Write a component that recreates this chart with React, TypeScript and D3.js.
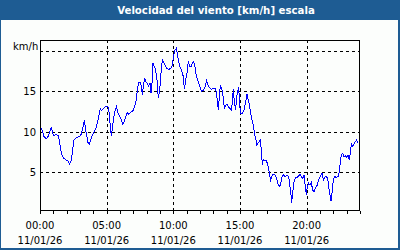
import React from "react";
import * as d3 from "d3";

const hours: number[] = [
  0.05, 0.15, 0.3, 0.475, 0.6, 0.725, 0.85, 0.95, 1.05, 1.15, 1.35, 1.45, 1.55, 1.65, 1.8, 1.95, 2.1, 2.225, 2.35, 2.45, 2.55, 2.725, 2.975, 3.1, 3.225, 3.325, 3.425, 3.525, 3.6, 3.7, 3.8, 3.925, 4.05, 4.225, 4.35, 4.425, 4.525, 4.6, 4.725, 4.85, 4.975, 5.075, 5.15, 5.225, 5.3, 5.35, 5.425, 5.5, 5.6, 5.725, 5.85, 5.975, 6.1, 6.2, 6.3, 6.425, 6.55, 6.65, 6.75, 6.85, 6.975, 7.1, 7.225, 7.3, 7.4, 7.525, 7.6, 7.675, 7.75, 7.85, 7.925,
  8.0, 8.125, 8.25, 8.325, 8.4, 8.475, 8.575, 8.675, 8.775, 8.875, 8.975, 9.075, 9.175, 9.325, 9.5, 9.675, 9.825, 9.925, 10.025, 10.125, 10.225, 10.3, 10.375, 10.5, 10.625, 10.75, 10.825, 10.925, 11.025, 11.125, 11.225, 11.325, 11.425, 11.525, 11.625, 11.725, 11.875, 12.0, 12.125, 12.25, 12.375, 12.5, 12.625, 12.75, 12.875, 13.0, 13.175, 13.25, 13.325, 13.375, 13.45, 13.525, 13.625, 13.7, 13.775, 13.825, 13.925, 14.025, 14.125, 14.25, 14.375, 14.45, 14.5, 14.575, 14.675, 14.75, 14.825, 14.9, 14.975, 15.05, 15.175, 15.3, 15.4, 15.525, 15.625, 15.725, 15.825,
  15.9, 16.025, 16.1, 16.2, 16.25, 16.35, 16.45, 16.525, 16.6, 16.675, 16.75, 16.825, 16.95, 17.05, 17.15, 17.225, 17.3, 17.4, 17.5, 17.65, 17.775, 17.875, 17.975, 18.05, 18.15, 18.275, 18.4, 18.525, 18.65, 18.75, 18.825, 18.875, 18.95, 19.025, 19.1, 19.2, 19.3, 19.4, 19.5, 19.6, 19.7, 19.8, 19.9, 19.975, 20.05, 20.15, 20.25, 20.35, 20.45, 20.55, 20.65, 20.8, 20.9, 21.025, 21.15, 21.25, 21.35, 21.45, 21.575, 21.65, 21.75, 21.825, 21.9, 22.0, 22.1, 22.225, 22.35, 22.45, 22.525, 22.6, 22.7, 22.8, 22.9, 23.0, 23.1, 23.2, 23.275, 23.35, 23.45, 23.55, 23.65, 23.75, 23.825,
];

const windSpeed: number[] = [
  10.54, 10.21, 9.39, 9.15, 9.39, 9.89, 10.62, 9.8, 9.48, 9.64, 9.56, 8.98, 7.75, 7.13, 6.72, 6.52, 6.44, 6.03, 6.52, 7.75, 8.98, 9.31, 9.39, 9.72, 10.62, 11.45, 10.21, 9.39, 8.65, 8.49, 8.98, 9.6, 10.01, 10.54, 11.45, 12.06, 12.8, 12.6, 12.76, 13.01, 13.17, 13.09, 12.88, 11.45, 10.21, 9.48, 10.3, 11.45, 12.47, 13.09, 12.27, 11.86, 11.45, 10.95, 11.24, 11.77, 12.35, 12.18, 12.27, 12.47, 12.6, 13.09, 13.91, 15.14, 16.04, 16.04, 15.55, 14.53, 15.63, 16.58, 16.17,
  16.04, 15.63, 15.96, 14.73, 15.96, 18.43, 18.02, 17.6, 16.37, 14.11, 15.14, 17.19, 18.92, 18.43, 17.81, 17.69, 17.81, 18.22, 19.45, 20.07, 20.27, 19.66, 18.84, 18.02, 17.52, 16.78, 15.22, 16.37, 17.19, 18.75, 18.02, 18.02, 18.43, 18.63, 18.02, 16.78, 16.17, 15.55, 14.94, 15.14, 15.55, 16.29, 15.63, 15.35, 15.22, 15.35, 15.35, 14.53, 13.5, 12.68, 14.32, 15.76, 15.35, 14.73, 13.7, 12.88, 13.29, 13.42, 13.09, 12.88, 12.68, 14.32, 15.22, 13.7, 12.68, 14.32, 14.94, 15.55, 13.29, 12.27, 12.27, 12.68, 13.5, 14.61, 13.91, 13.09, 12.06,
  11.45, 10.62, 9.6, 8.98, 8.24, 8.65, 8.78, 8.98, 7.75, 5.9, 6.6, 6.44, 6.52, 6.11, 5.49, 4.67, 4.05, 4.55, 4.79, 4.67, 4.05, 3.44, 3.23, 3.64, 4.47, 4.67, 4.47, 4.67, 4.47, 3.23, 2.21, 1.26, 2.41, 3.64, 4.14, 4.38, 4.38, 4.55, 4.79, 4.47, 4.26, 4.67, 3.23, 2.21, 3.23, 3.64, 3.44, 3.73, 2.82, 2.62, 3.03, 3.44, 4.14, 4.55, 4.88, 4.05, 4.38, 4.47, 4.26, 3.23, 2.21, 1.51, 2.41, 4.05, 4.47, 4.38, 4.47, 5.08, 6.31, 7.13, 7.34, 6.93, 7.01, 6.85, 7.13, 6.52, 7.34, 8.57, 8.24, 8.49, 8.78, 8.98, 8.65,
];

const yTicks: number[] = [5, 10, 15, 20];
const yTickLabels: string[] = ["5", "10", "15", ""];
const xTicks: number[] = [0, 5, 10, 15, 20];
const xTimeLabels: string[] = ["00:00", "05:00", "10:00", "15:00", "20:00"];
const dateLabel = "11/01/26";
const title = "Velocidad del viento [km/h] escala";
const unit = "km/h";

const W = 400;
const H = 250;
const L = 40;
const R = 360;
const T = 40;
const B = 210.5;
const BLUE = "#1e5c93";
const FONT = "DejaVu Sans, Verdana, sans-serif";

export default function App() {
  const x = d3.scaleLinear().domain([0, 24]).range([L, R]);
  const y = d3.scaleLinear().domain([0.3, 21.3]).range([B, T]);
  const pts: [number, number][] = hours.map((h, i) => [h, windSpeed[i]]);
  const line = d3
    .line<[number, number]>()
    .x((d) => x(d[0]))
    .y((d) => y(d[1]));
  const hourTicks = d3.range(0, 25, 1);

  return (
    <svg
      width={W}
      height={H}
      style={{ position: "fixed", left: 0, top: 0 }}
      xmlns="http://www.w3.org/2000/svg"
    >
      <rect x={0} y={0} width={W} height={H} fill={BLUE} />
      <rect x={1} y={20} width={W - 3} height={H - 22} fill="#fcfefc" />
      <text
        x={216}
        y={14}
        fill="#ffffff"
        fontFamily={FONT}
        fontWeight="bold"
        fontSize={10.2}
        textAnchor="middle"
      >
        {title}
      </text>

      {/* grid */}
      {yTicks.map((t) => (
        <line
          key={"gy" + t}
          x1={L}
          x2={R}
          y1={Math.round(y(t)) + 0.5}
          y2={Math.round(y(t)) + 0.5}
          stroke="#000"
          strokeWidth={1}
          strokeDasharray="3,3"
          shapeRendering="crispEdges"
        />
      ))}
      {xTicks.slice(1).map((t) => (
        <line
          key={"gx" + t}
          x1={Math.round(x(t)) + 0.5}
          x2={Math.round(x(t)) + 0.5}
          y1={T}
          y2={B}
          stroke="#000"
          strokeWidth={1}
          strokeDasharray="3,3"
          shapeRendering="crispEdges"
        />
      ))}

      {/* data line */}
      <path
        d={line(pts) || ""}
        fill="none"
        stroke="#0000ff"
        strokeWidth={1}
        shapeRendering="crispEdges"
      />

      {/* frame */}
      <rect
        x={L + 0.5}
        y={T + 0.5}
        width={R - L - 1}
        height={B - T - 0.5}
        fill="none"
        stroke="#000"
        strokeWidth={1}
        shapeRendering="crispEdges"
      />
      {hourTicks.map((h) => (
        <line
          key={"t" + h}
          x1={Math.round(x(h)) + 0.5}
          x2={Math.round(x(h)) + 0.5}
          y1={B}
          y2={B + 3}
          stroke="#000"
          strokeWidth={1}
          shapeRendering="crispEdges"
        />
      ))}

      {/* y labels */}
      {yTicks.map((t, i) => (
        <text
          key={"yl" + t}
          x={36}
          y={y(t) + 4}
          fontFamily={FONT}
          fontSize={10}
          textAnchor="end"
          fill="#000"
        >
          {yTickLabels[i]}
        </text>
      ))}
      <text x={13} y={50} fontFamily={FONT} fontSize={10} fill="#000">
        {unit}
      </text>

      {/* x labels */}
      {xTicks.map((t, i) => (
        <g key={"xl" + t}>
          <text
            x={x(t)}
            y={229}
            fontFamily={FONT}
            fontSize={10}
            textAnchor="middle"
            fill="#000"
          >
            {xTimeLabels[i]}
          </text>
          <text
            x={x(t)}
            y={243.5}
            fontFamily={FONT}
            fontSize={10}
            textAnchor="middle"
            fill="#000"
          >
            {dateLabel}
          </text>
        </g>
      ))}
    </svg>
  );
}
